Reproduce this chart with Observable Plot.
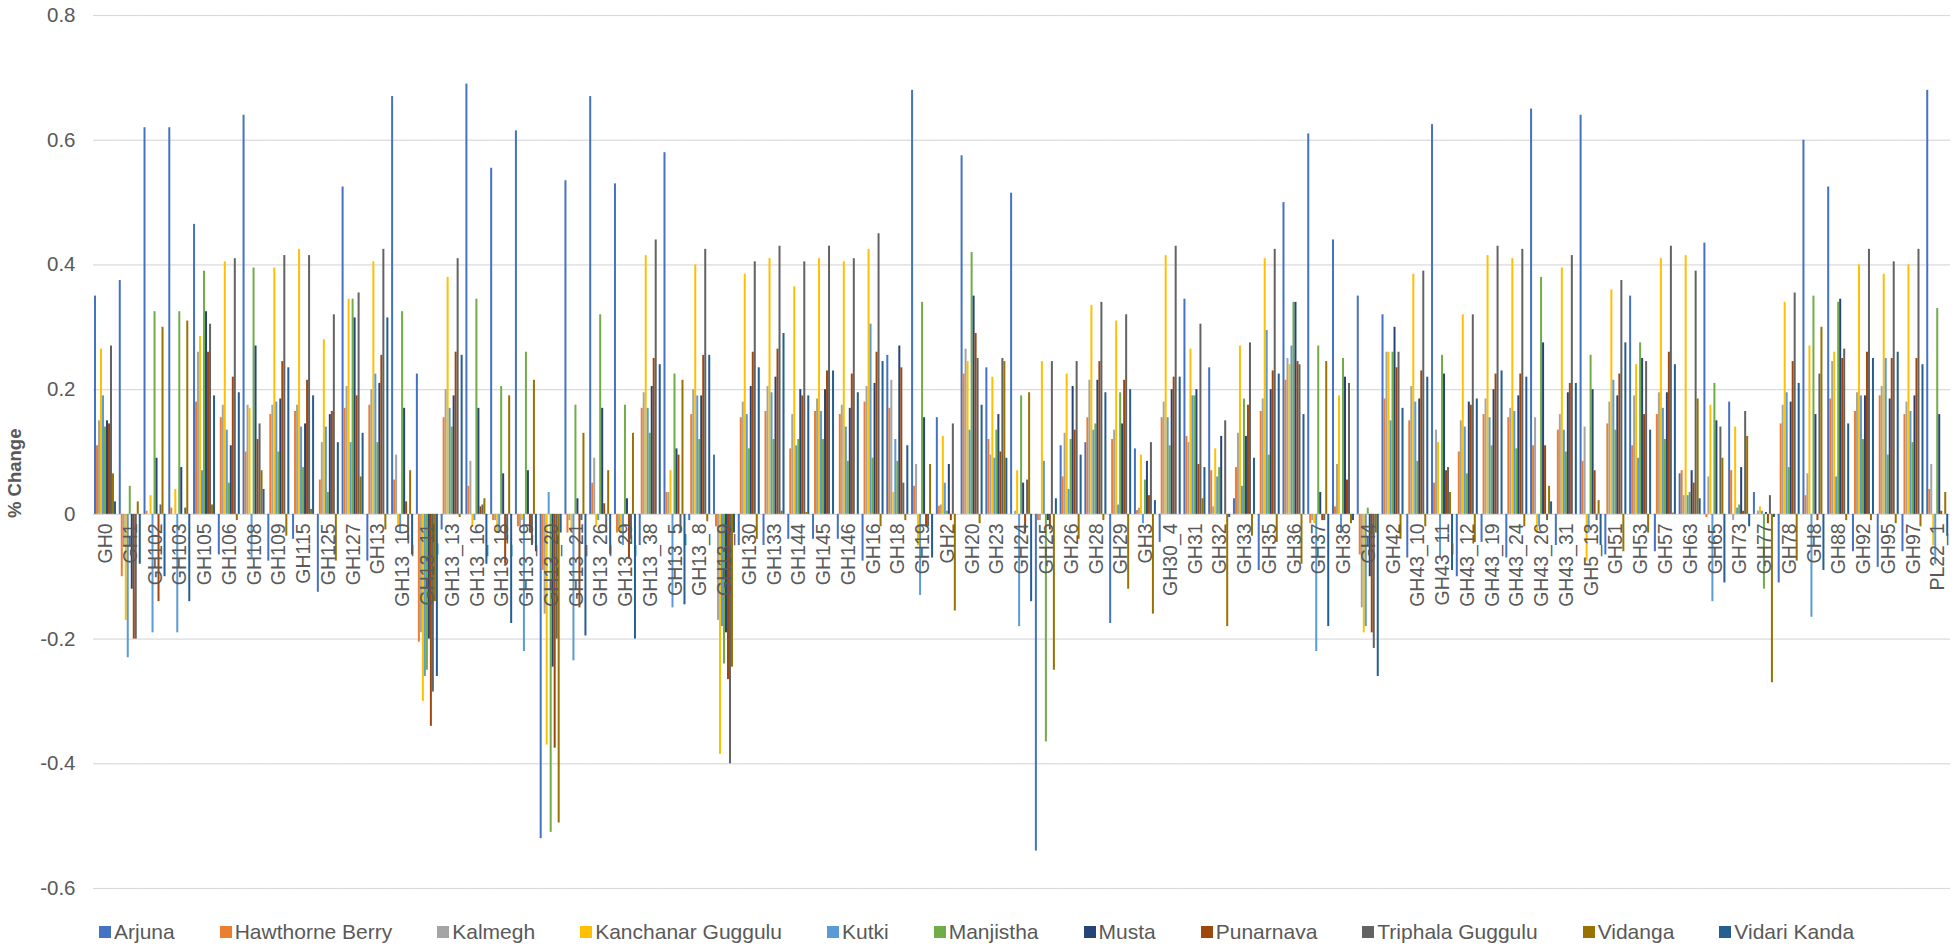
<!DOCTYPE html>
<html>
<head>
<meta charset="utf-8">
<script src="https://cdn.jsdelivr.net/npm/d3@7"></script>
<script src="https://cdn.jsdelivr.net/npm/@observablehq/plot@0.6"></script>
<style>
  html, body { margin: 0; padding: 0; background: #ffffff; overflow: hidden; }
  #wrap { width: 1955px; height: 949px; position: relative; font-family: "Liberation Sans", Arial, sans-serif; }
  #legend { position: absolute; left: 0; top: 905px; width: 1955px; height: 44px; display: flex; justify-content: flex-start; align-items: flex-start; gap: 45px; padding-left: 99px; padding-top: 15px; box-sizing: border-box; font-size: 21px; line-height: 24px; color: #595959; }
  .item { display: flex; align-items: center; white-space: nowrap; }
  .sw { width: 12px; height: 12px; margin-right: 3px; display: inline-block; }
</style>
</head>
<body>
<div id="wrap"><div id="chart"></div><div id="legend"></div></div>
<script>
const categories = ["GH0","GH1","GH102","GH103","GH105","GH106","GH108","GH109","GH115","GH125",
  "GH127","GH13","GH13_10","GH13_11","GH13_13","GH13_16","GH13_18","GH13_19","GH13_20","GH13_21",
  "GH13_26","GH13_29","GH13_38","GH13_5","GH13_8","GH13_9","GH130","GH133","GH144","GH145",
  "GH146","GH16","GH18","GH19","GH2","GH20","GH23","GH24","GH25","GH26",
  "GH28","GH29","GH3","GH30_4","GH31","GH32","GH33","GH35","GH36","GH37",
  "GH38","GH4","GH42","GH43_10","GH43_11","GH43_12","GH43_19","GH43_24","GH43_26","GH43_31",
  "GH5_13","GH51","GH53","GH57","GH63","GH65","GH73","GH77","GH78","GH8",
  "GH88","GH92","GH95","GH97","PL22_1"];

const seriesNames = ["Arjuna","Hawthorne Berry","Kalmegh","Kanchanar Guggulu","Kutki","Manjistha","Musta","Punarnava","Triphala Guggulu","Vidanga","Vidari Kanda"];
const seriesColors = ["#4472C4","#ED7D31","#A5A5A5","#FFC000","#5B9BD5","#70AD47","#264478","#9E480E","#636363","#997300","#255E91"];

const arjuna = [0.35,0.375,0.62,0.62,0.465,-0.065,0.64,-0.075,-0.04,-0.125,
  0.525,-0.075,0.67,0.225,-0.025,0.69,0.555,0.615,-0.52,0.535,
  0.67,0.53,-0.05,0.58,-0.01,0.095,-0.05,-0.05,-0.04,-0.04,
  -0.04,-0.075,0.255,0.68,0.155,0.575,0.235,0.515,-0.54,0.11,
  0.115,-0.175,0.105,-0.045,0.345,0.235,0.025,-0.09,0.5,0.61,
  0.44,0.35,0.32,-0.07,0.625,-0.1,-0.045,-0.07,0.65,-0.05,
  0.64,-0.065,0.35,-0.06,0.065,0.435,0.18,0.035,-0.11,0.6,
  0.525,-0.06,-0.085,-0.06,0.68];
const hawthorneBerry = [0.11,-0.10,0.005,0.01,0.18,0.155,0.10,0.16,0.165,0.055,
  0.17,0.175,0.055,-0.205,0.155,0.045,-0.01,-0.02,-0.09,-0.03,
  0.05,-0.03,0.17,0.035,0.16,-0.02,0.155,0.165,0.105,0.165,
  0.16,0.18,0.17,0.045,0.013,0.225,0.12,0.0,-0.01,0.06,
  0.155,0.12,0.006,0.155,0.125,0.07,0.075,0.165,0.215,-0.015,
  0.012,-0.065,0.185,0.15,0.05,0.1,0.16,0.155,0.11,0.135,
  0.085,0.145,0.11,0.16,0.07,-0.005,0.07,0.0,0.145,0.03,
  0.185,0.165,0.19,0.16,0.04];
const kalmegh = [0.15,-0.05,0.0,0.0,0.26,0.175,0.175,0.175,0.175,0.115,
  0.205,0.2,0.095,-0.19,0.2,0.085,-0.01,-0.02,-0.16,-0.01,
  0.09,-0.02,0.195,0.035,0.2,-0.17,0.18,0.205,0.16,0.185,
  0.175,0.205,0.215,0.08,0.015,0.265,0.095,0.005,-0.01,0.13,
  0.215,0.135,0.01,0.18,0.115,0.012,0.13,0.185,0.25,-0.01,
  0.08,-0.15,0.26,0.205,0.135,0.15,0.185,0.17,0.155,0.16,
  0.14,0.18,0.19,0.195,0.03,0.06,-0.01,0.005,0.175,0.065,
  0.245,0.195,0.205,0.18,0.08];
const kanchanarGuggulu = [0.265,-0.17,0.03,0.04,0.285,0.405,0.17,0.395,0.425,0.28,
  0.345,0.405,-0.02,-0.30,0.38,-0.02,-0.03,-0.01,-0.37,-0.03,
  -0.02,-0.03,0.415,0.07,0.4,-0.385,0.385,0.41,0.365,0.41,
  0.405,0.425,0.035,-0.05,0.125,0.245,0.22,0.07,0.245,0.225,
  0.335,0.31,0.095,0.415,0.265,0.105,0.27,0.41,0.24,-0.015,
  0.19,-0.19,0.26,0.385,0.115,0.32,0.415,0.41,-0.03,0.395,
  -0.075,0.36,0.24,0.41,0.415,0.175,0.14,0.012,0.34,0.27,
  0.26,0.40,0.385,0.40,-0.05];
const kutki = [0.19,-0.23,-0.19,-0.19,0.07,0.135,-0.07,0.18,0.14,0.14,
  0.115,0.225,-0.03,-0.26,0.17,-0.01,-0.03,-0.22,0.035,-0.235,
  -0.01,-0.05,0.17,-0.15,0.19,-0.18,0.16,0.195,0.11,0.165,
  0.14,0.305,0.12,-0.13,0.05,0.135,0.09,-0.18,0.085,0.04,
  0.135,0.015,-0.015,0.155,0.19,0.06,0.045,0.295,0.27,-0.22,
  -0.03,-0.18,0.15,0.18,-0.07,0.14,0.155,0.165,-0.02,0.135,
  -0.03,0.215,0.09,0.17,0.03,-0.14,0.01,0.005,0.195,-0.165,
  0.06,0.19,0.25,0.165,-0.08];
const manjistha = [0.14,0.045,0.325,0.325,0.39,0.05,0.395,0.10,0.075,0.035,
  0.345,0.115,0.325,-0.25,0.14,0.345,0.205,0.26,-0.51,0.175,
  0.32,0.175,0.13,0.225,0.12,-0.24,0.105,0.12,0.12,0.12,
  0.085,0.09,0.085,0.34,0.005,0.42,0.135,0.19,-0.365,0.12,
  0.145,0.195,0.055,0.11,0.19,0.075,0.185,0.095,0.34,0.27,
  0.25,0.01,0.26,0.085,0.255,0.065,0.11,0.105,0.38,0.1,
  0.255,0.135,0.275,0.12,0.035,0.21,0.015,-0.12,0.075,0.35,
  0.34,0.12,0.095,0.115,0.33];
const musta = [0.15,-0.12,0.09,0.075,0.325,0.11,0.27,0.185,0.145,0.16,
  0.315,0.21,0.17,-0.2,0.19,0.17,0.065,0.07,-0.245,0.025,
  0.17,0.025,0.205,0.105,0.19,-0.19,0.205,0.22,0.2,0.2,
  0.17,0.21,0.27,0.155,0.08,0.35,0.16,0.05,-0.01,0.205,
  0.215,0.145,0.085,0.2,0.2,0.125,0.125,0.2,0.34,0.035,
  0.22,-0.1,0.3,0.185,0.225,0.18,0.2,0.19,0.275,0.195,
  0.2,0.19,0.25,0.195,0.07,0.15,0.075,0.003,0.18,0.16,
  0.345,0.19,0.185,0.19,0.16];
const punarnava = [0.145,-0.20,-0.14,0.0,0.26,0.22,0.12,0.245,0.215,0.165,
  0.19,0.255,0.02,-0.34,0.26,0.012,-0.08,-0.03,-0.375,-0.15,
  0.017,-0.07,0.25,0.095,0.255,-0.265,0.26,0.265,0.19,0.23,
  0.225,0.26,0.235,-0.02,-0.01,0.29,0.1,-0.03,-0.025,0.135,
  0.245,0.215,0.03,0.22,0.08,0.0,0.175,0.23,0.245,-0.01,
  0.055,-0.19,0.235,0.23,0.07,0.175,0.225,0.225,0.11,0.21,
  0.07,0.225,0.16,0.26,0.05,0.0,0.005,-0.015,0.245,-0.01,
  0.25,0.26,0.25,0.25,0.005];
const triphalaGuggulu = [0.27,-0.2,0.015,0.01,0.305,0.41,0.145,0.415,0.415,0.32,
  0.355,0.425,-0.04,-0.285,0.41,0.015,-0.04,-0.05,-0.2,-0.01,
  -0.03,-0.04,0.44,-0.03,0.425,-0.40,0.405,0.43,0.405,0.43,
  0.41,0.45,0.05,-0.02,0.145,0.25,0.25,0.055,0.245,0.245,
  0.34,0.32,0.115,0.43,0.305,0.15,0.275,0.425,0.24,-0.01,
  0.21,-0.215,0.26,0.39,0.075,0.32,0.43,0.425,-0.01,0.415,
  -0.01,0.375,0.245,0.43,0.39,0.14,0.165,0.03,0.355,0.225,
  0.265,0.425,0.405,0.425,0.0];
const vidanga = [0.065,0.02,0.30,0.31,0.015,-0.01,0.07,-0.035,0.008,-0.075,
  0.06,-0.025,0.07,-0.14,-0.005,0.025,0.19,0.215,-0.495,0.13,
  0.07,0.13,0.0,0.215,-0.012,-0.245,-0.04,0.005,0.003,0.0,
  0.0,-0.02,-0.01,0.08,-0.155,-0.015,0.245,0.195,-0.25,-0.04,
  -0.01,-0.12,-0.16,0.0,0.025,-0.18,-0.035,-0.045,-0.08,0.245,
  -0.015,-0.03,-0.04,-0.02,0.035,-0.045,0.0,-0.02,0.045,0.0,
  0.022,-0.06,-0.03,0.002,0.185,0.09,0.125,-0.27,-0.075,0.3,
  -0.01,-0.01,-0.015,-0.02,0.035];
const vidariKanda = [0.02,-0.08,-0.1,-0.14,0.19,0.195,0.04,0.235,0.19,0.115,
  0.13,0.315,-0.065,-0.26,0.255,-0.08,-0.175,-0.06,-0.03,-0.195,
  -0.065,-0.2,0.24,-0.145,0.255,-0.03,0.235,0.29,0.19,0.23,
  0.195,0.245,0.11,-0.07,0.0,0.175,0.09,-0.14,0.025,0.095,
  0.195,0.2,0.022,0.22,0.075,-0.005,0.09,0.225,0.16,-0.18,
  -0.01,-0.26,0.17,0.22,-0.09,0.185,0.23,0.22,0.02,0.21,
  -0.05,0.275,0.135,0.24,0.025,-0.11,-0.02,-0.005,0.21,-0.09,
  0.145,0.25,0.26,0.24,-0.035];

const yTicks = [-0.6,-0.4,-0.2,0,0.2,0.4,0.6,0.8];
const yTickLabels = ["-0.6","-0.4","-0.2","0","0.2","0.4","0.6","0.8"];

const seriesValues = [arjuna,hawthorneBerry,kalmegh,kanchanarGuggulu,kutki,manjistha,musta,punarnava,triphalaGuggulu,vidanga,vidariKanda];

const rows = [];
categories.forEach((c, i) => {
  seriesNames.forEach((s, j) => rows.push({cat: c, series: s, value: seriesValues[j][i]}));
});
const tickRows = yTicks.map((v, i) => ({v, label: yTickLabels[i]}));
const first = categories[0];
const gray = "#595959";

const chart = Plot.plot({
  width: 1955,
  height: 905,
  marginTop: 15,
  marginBottom: 17,
  marginLeft: 93,
  marginRight: 5,
  style: {background: "#ffffff", fontFamily: '"Liberation Sans", Arial, sans-serif', overflow: "visible"},
  fx: {domain: categories, padding: 0, axis: null, label: null},
  x: {domain: seriesNames, paddingInner: 0, paddingOuter: 0.6, axis: null, label: null},
  y: {domain: [-0.6, 0.8], axis: null, label: null},
  color: {domain: seriesNames, range: seriesColors},
  marks: [
    Plot.ruleY(yTicks, {stroke: "#d9d9d9", strokeWidth: 1.2}),
    Plot.barY(rows, {fx: "cat", x: "series", y: "value", fill: "series"}),
    Plot.text(tickRows, {fx: () => first, y: "v", text: "label", frameAnchor: "left", dx: -18, textAnchor: "end", fontSize: 20.5, fill: gray}),
    Plot.text(["% Change"], {fx: () => first, frameAnchor: "left", dx: -78, dy: 66, rotate: -90, text: d => d, fontSize: 18.5, fontWeight: "bold", fill: gray}),
    Plot.text(categories, {fx: d => d, y: () => 0, text: d => d, rotate: -90, textAnchor: "end", lineAnchor: "middle", dy: 9, fontSize: 19.5, fill: gray})
  ]
});
document.getElementById("chart").appendChild(chart);

const legend = document.getElementById("legend");
seriesNames.forEach((s, j) => {
  const item = document.createElement("div");
  item.className = "item";
  const sw = document.createElement("span");
  sw.className = "sw";
  sw.style.background = seriesColors[j];
  const t = document.createElement("span");
  t.textContent = s;
  item.appendChild(sw);
  item.appendChild(t);
  legend.appendChild(item);
});
</script>
</body>
</html>
